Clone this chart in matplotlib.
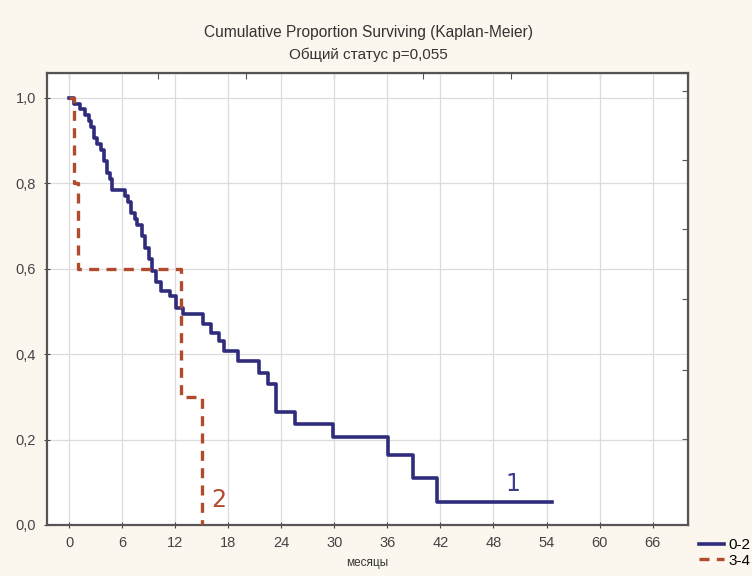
import numpy as np
import matplotlib
matplotlib.use("Agg")
import matplotlib.pyplot as plt

# Данные кривых --------------------------------------------------------------
t_grp1 = [0, 0.6, 1.2, 1.8, 2.2, 2.5, 2.8, 3.2, 3.6, 4.0, 4.3, 4.6, 4.9,
          6.3, 6.7, 7.0, 7.4, 7.7, 8.2, 8.6, 9.0, 9.4, 9.8, 10.4, 11.4, 12.1,
          12.9, 15.2, 16.0, 17.0, 17.5, 19.1, 21.5, 22.5, 23.4, 25.5, 29.8,
          36.1, 38.9, 41.6, 54.6]
s_grp1 = [1.0, 0.986, 0.973, 0.959, 0.946, 0.932, 0.905, 0.892, 0.878, 0.851,
          0.824, 0.811, 0.784, 0.77, 0.757, 0.73, 0.716, 0.703, 0.676, 0.649,
          0.622, 0.595, 0.568, 0.548, 0.536, 0.508, 0.494, 0.47, 0.45, 0.43,
          0.407, 0.384, 0.356, 0.33, 0.265, 0.237, 0.205, 0.165, 0.11, 0.055,
          0.055]

t_grp2 = [0, 0.5, 1.0, 12.6, 15.0]
s_grp2 = [1.0, 0.8, 0.6, 0.3, 0.0]

grp_names = ['0-2', '3-4']
x_ticks = [0, 6, 12, 18, 24, 30, 36, 42, 48, 54, 60, 66]
y_ticks = [0.0, 0.2, 0.4, 0.6, 0.8, 1.0]

blue = '#2f2c7c'
red = '#b24a2e'
bg = '#fcf7ee'

plt.rcParams['font.family'] = ['Liberation Sans', 'DejaVu Sans']

fig = plt.figure(figsize=(7.52, 5.76), dpi=100, facecolor=bg)
ax = fig.add_axes([47/752, 1-525/576, (688-47)/752, (525-73)/576])
ax.set_facecolor('white')

ax.step(t_grp1, s_grp1, where='post', color=blue, lw=2.6, label=grp_names[0],
        zorder=3)
ax.step(t_grp2, s_grp2, where='post', color=red, lw=2.4, ls=(0, (3, 2.2)),
        label=grp_names[1], zorder=4)

ax.text(50.2, 0.096, '1', color='#3d3d8c', fontsize=17, ha='center',
        va='center', family='DejaVu Sans')
ax.text(16.9, 0.058, '2', color=red, fontsize=17, ha='center', va='center',
        family='DejaVu Sans')

ax.set_xlim(-2.5, 70)
ax.set_ylim(0, 1.058)
ax.set_xticks(x_ticks)
ax.set_yticks(y_ticks)
ax.set_yticklabels([f'{v:.1f}'.replace('.', ',') for v in y_ticks])
ax.grid(True, color='#dcdcdc', lw=0.9)
ax.set_axisbelow(True)
ax.tick_params(axis='both', labelsize=10.5, colors='#444444', length=4,
               direction='inout', pad=6)
for sp in ax.spines.values():
    sp.set_color('#555555')
    sp.set_linewidth(1.6)

# верхние и правые засечки (как в Statistica)
top = ax.secondary_xaxis('top')
top.set_xticks([0, 10, 20, 30, 40, 50, 60])
top.tick_params(direction='in', length=4, labeltop=False, color='#555555')
right = ax.secondary_yaxis('right')
right.set_yticks([1.016, 0.855, 0.693, 0.529, 0.363, 0.201])
right.tick_params(direction='in', length=4, labelright=False, color='#555555')

ax.set_xlabel('месяцы', fontsize=8.5, color='#333333', labelpad=5)

fig.text(0.49, 1-33/576, 'Cumulative Proportion Surviving (Kaplan-Meier)',
         ha='center', va='center', fontsize=11.2, color='#333333')
fig.text(0.49, 1-55/576, 'Общий статус p=0,055', ha='center', va='center',
         fontsize=11, color='#333333')

fig.legend(loc='upper left', bbox_to_anchor=(0.93, 1-538/576), frameon=False,
           fontsize=11, handlelength=1.6, handletextpad=0.3, labelspacing=0.1,
           borderaxespad=0, borderpad=0)

fig.savefig('out.png', dpi=100, facecolor=bg)
